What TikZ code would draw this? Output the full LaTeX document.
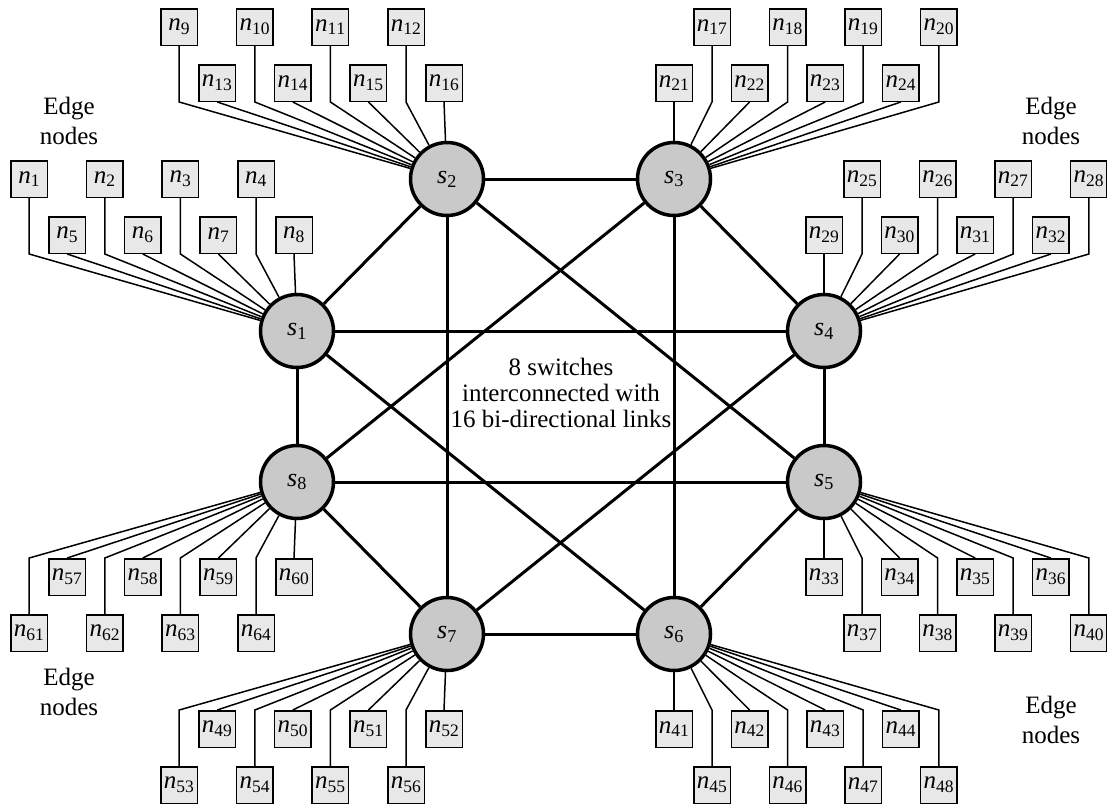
\RequirePackage{fix-cm}
\documentclass[tikz,border=0pt]{standalone}
\usepackage{fontspec}
\setmainfont{Liberation Serif}
\usetikzlibrary{calc}
\definecolor{switchgray}{gray}{0.79}
\definecolor{nodegray}{gray}{0.91}

\tikzset{
  switch/.style={circle, draw, line width=3.5pt, fill=switchgray,
    minimum size=73pt, inner sep=0pt, font=\fontsize{26}{26}\selectfont},
  edgenode/.style={rectangle, draw, line width=1.5pt, fill=nodegray,
    minimum size=36.5pt, inner sep=0pt, font=\fontsize{25}{25}\selectfont},
  link/.style={line width=3pt},
  edgelink/.style={line width=1.5pt},
  caption/.style={align=center, font=\fontsize{25}{26}\selectfont}
}

% #1 switch, #2 first inner node, #3 first outer node,
% #4/#5 x offset of inner/outer row, #6/#7 y offset of inner/outer row,
% #8 side of the inner row that faces the switch
\newcommand{\edgegroup}[8]{%
  \foreach \k in {0,...,3}{%
    \pgfmathtruncatemacro{\ii}{#2+\k}%
    \pgfmathtruncatemacro{\oo}{#3+\k}%
    \node[edgenode] (n\ii) at ($(s#1)+(#4+75.6*\k,#6)$) {$\mathit{n}_{\mathrm{\ii}}$};
    \node[edgenode] (n\oo) at ($(s#1)+(#5+75.6*\k,#7)$) {$\mathit{n}_{\mathrm{\oo}}$};
    \draw[edgelink] (n\ii.#8) -- (s#1);
    \draw[edgelink] (n\oo) -- (n\oo |- n\ii.#8) -- (s#1);
  }}

\begin{document}
\begin{tikzpicture}[x=1pt, y=-1pt]
  \useasboundingbox (0,0) rectangle (1107,804);

  % Switches
  \foreach \s/\x/\y in {1/297/331, 2/447/179, 3/674/179, 4/824/331,
                        5/824/482, 6/674/634, 7/447/634, 8/297/482}
    \node[switch] (s\s) at (\x,\y) {$\mathit{s}_{\mathrm{\s}}$};

  % 16 links between the switches
  \foreach \a/\b in {1/2, 2/3, 3/4, 4/5, 5/6, 6/7, 7/8, 8/1,
                     1/4, 8/5, 2/7, 3/6, 1/6, 8/3, 2/5, 7/4}
    \draw[link] (s\a) -- (s\b);

  % Edge nodes of each switch
  \edgegroup{1}{5}{1}{-229.8}{-267.8}{-96}{-152}{south}
  \edgegroup{2}{13}{9}{-229.8}{-267.8}{-96}{-152}{south}
  \edgegroup{3}{21}{17}{0}{38}{-96}{-152}{south}
  \edgegroup{4}{29}{25}{0}{38}{-96}{-152}{south}
  \edgegroup{5}{33}{37}{0}{38}{95}{151}{north}
  \edgegroup{6}{41}{45}{0}{38}{95}{151}{north}
  \edgegroup{7}{49}{53}{-229.8}{-267.8}{95}{151}{north}
  \edgegroup{8}{57}{61}{-229.8}{-267.8}{95}{151}{north}

  % Labels
  \node[caption] (info) at (561,393)
    {8 switches\\interconnected with\\16 bi-directional links};
  \node[caption, font=\fontsize{25}{30}\selectfont] (edgeTL) at (69,121) {Edge\\nodes};
  \node[caption, font=\fontsize{25}{30}\selectfont] (edgeTR) at (1051,121) {Edge\\nodes};
  \node[caption, font=\fontsize{25}{30}\selectfont] (edgeBL) at (69,692) {Edge\\nodes};
  \node[caption, font=\fontsize{25}{30}\selectfont] (edgeBR) at (1051,720) {Edge\\nodes};
\end{tikzpicture}
\end{document}
